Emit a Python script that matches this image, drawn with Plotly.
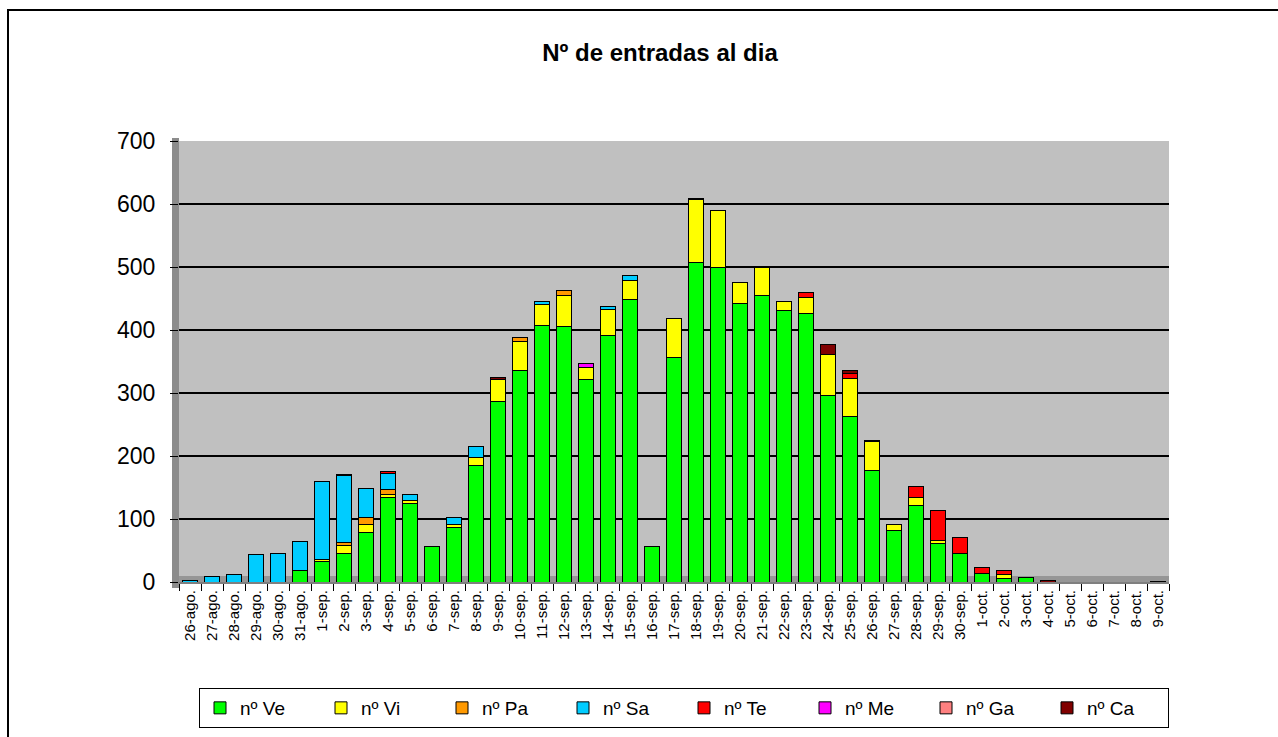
import plotly.graph_objects as go

# categories (days)
days = (["%d-ago." % d for d in range(26, 32)]
        + ["%d-sep." % d for d in range(1, 31)]
        + ["%d-oct." % d for d in range(1, 10)])

# series values, one per day
ve = [0, 0, 0, 0, 0, 18,
      32, 45, 79, 134, 124, 56, 87, 185, 287, 336, 407, 405, 322, 392,
      449, 57, 357, 507, 499, 442, 454, 431, 426, 296, 263, 177, 82, 122, 61, 45,
      13, 5, 7, 0, 0, 0, 0, 0, 0]
vi = [0, 0, 0, 0, 0, 0,
      3, 13, 12, 5, 5, 0, 5, 13, 35, 46, 33, 49, 18, 40,
      29, 0, 61, 100, 90, 34, 46, 14, 26, 65, 60, 46, 9, 12, 5, 0,
      0, 7, 0, 0, 0, 0, 0, 0, 0]
pa = [0, 0, 0, 0, 0, 0,
      0, 5, 12, 8, 0, 0, 0, 0, 0, 6, 0, 9, 0, 0,
      0, 0, 0, 2, 0, 0, 0, 0, 0, 0, 0, 0, 0, 0, 0, 0,
      0, 0, 0, 0, 0, 0, 0, 0, 0]
sa = [3, 8, 12, 43, 46, 47,
      124, 106, 45, 26, 10, 0, 10, 17, 0, 0, 5, 0, 0, 5,
      8, 0, 0, 0, 0, 0, 0, 0, 0, 0, 0, 0, 0, 0, 0, 0,
      0, 0, 0, 0, 0, 0, 0, 0, 0]
te = [0, 0, 0, 0, 0, 0,
      0, 2, 0, 3, 0, 0, 0, 0, 0, 0, 0, 0, 0, 0,
      0, 0, 0, 0, 0, 0, 0, 0, 7, 0, 8, 0, 0, 18, 48, 26,
      10, 6, 0, 0, 0, 0, 0, 0, 0]
me = [0, 0, 0, 0, 0, 0,
      0, 0, 0, 0, 0, 0, 0, 0, 0, 0, 0, 0, 7, 0,
      0, 0, 0, 0, 0, 0, 0, 0, 0, 0, 0, 0, 0, 0, 0, 0,
      0, 0, 0, 0, 0, 0, 0, 0, 0]
ga = [0] * 45
ca = [0, 0, 0, 0, 0, 0,
      0, 0, 0, 0, 0, 0, 0, 0, 3, 0, 0, 0, 0, 0,
      0, 0, 0, 0, 0, 0, 0, 0, 0, 16, 5, 2, 0, 0, 0, 0,
      0, 0, 0, 2, 0, 0, 0, 0, 1]

series = [("nº Ve", ve, "#00FF00"),
          ("nº Vi", vi, "#FFFF00"),
          ("nº Pa", pa, "#FF9900"),
          ("nº Sa", sa, "#00CCFF"),
          ("nº Te", te, "#FF0000"),
          ("nº Me", me, "#FF00FF"),
          ("nº Ga", ga, "#FF8080"),
          ("nº Ca", ca, "#800000")]

fig = go.Figure()
for name, vals, col in series:
    fig.add_trace(go.Bar(x=days, y=vals, name=name,
                         marker=dict(color=col, line=dict(color="black", width=1))))

# pixel -> paper helpers for the decorations
L, R, T, B = 179, 109, 141, 155
pw, ph = 1278 - L - R, 737 - T - B
def px(x):
    return (x - L) / pw
def py(y):
    return (737 - B - y) / ph

fig.update_layout(
    width=1278, height=737,
    margin=dict(l=L, r=R, t=T, b=B, autoexpand=False),
    barmode="stack", bargap=0.34,
    paper_bgcolor="white", plot_bgcolor="#C0C0C0",
    font=dict(family="Liberation Sans, Arial", color="black"),
    title=dict(text="<b>Nº de entradas al dia</b>", x=660 / 1278, xanchor="center",
               y=1 - 53 / 737, yanchor="middle",
               font=dict(family="Liberation Sans Narrow, Arial Narrow, Liberation Sans",
                         size=24)),
    xaxis=dict(type="category", tickangle=-90, tickfont=dict(size=15),
               ticks="outside", tickson="boundaries", ticklen=7, tickcolor="black",
               showline=True, linecolor="#7F7F7F", linewidth=2, showgrid=False),
    yaxis=dict(range=[0, 700], dtick=100, tickfont=dict(size=23),
               ticks="outside", ticklen=8, tickcolor="black", ticklabelstandoff=10,
               showgrid=True, gridcolor="black", gridwidth=2, zeroline=False,
               showline=False),
    legend=dict(orientation="h", x=px(684), xanchor="center", y=py(688), yanchor="top",
                bordercolor="black", borderwidth=1, bgcolor="white",
                entrywidth=76, font=dict(family="Liberation Sans Narrow, Arial Narrow, Liberation Sans",
                                         size=19), traceorder="normal"),
    shapes=[
        # outer frame
        dict(type="rect", xref="paper", yref="paper", x0=px(8), x1=px(1290),
             y0=py(760), y1=py(10), line=dict(color="black", width=2), layer="below"),
        # left wall
        dict(type="rect", xref="paper", yref="paper", x0=px(172), x1=px(179),
             y0=py(588), y1=py(138), fillcolor="#8C8C8C", line=dict(width=0), layer="below"),
        # floor
        dict(type="rect", xref="paper", yref="paper", x0=0, x1=1,
             y0=0, y1=py(576), fillcolor="#969696", line=dict(width=0), layer="below"),
    ],
)

fig.write_html("out.html", config={"displayModeBar": False},
               post_script="document.body.style.margin='0';document.body.style.overflow='hidden';")
